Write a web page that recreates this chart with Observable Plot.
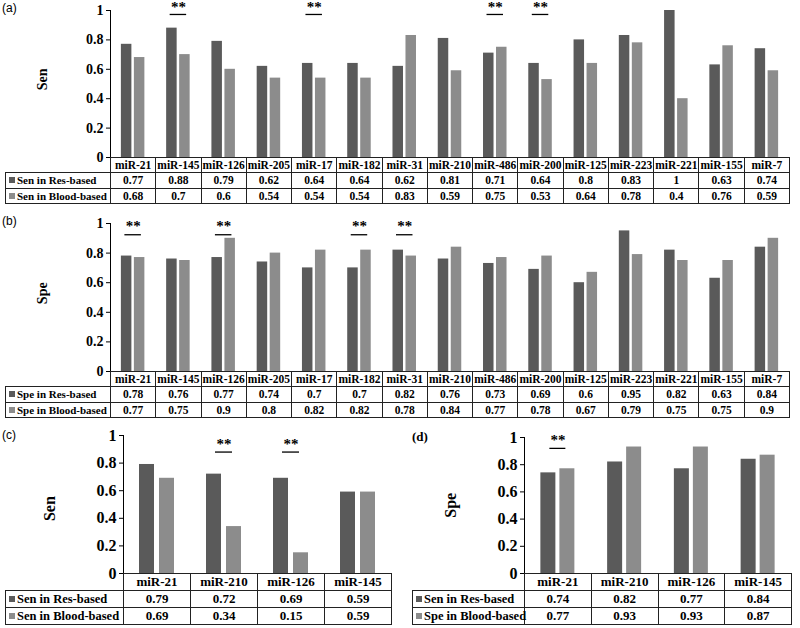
<!DOCTYPE html>
<html>
<head>
<meta charset="utf-8">
<script src="https://cdn.jsdelivr.net/npm/d3@7"></script>
<script src="https://cdn.jsdelivr.net/npm/@observablehq/plot@0.6"></script>
<style>
  body { margin: 0; background: #fff; }
  #root { position: relative; width: 800px; height: 628px; background: #fff; overflow: hidden; }
  #root svg { position: absolute; overflow: visible; }
  .tbl { position: absolute; border-collapse: collapse; table-layout: fixed; color: #000; }
  .tbl td { border: 1px solid #222; padding: 0; text-align: center; white-space: nowrap; overflow: hidden; box-sizing: border-box; }
  .tbl td.lab { text-align: left; padding-left: 3px; overflow: visible; }
  .tbl td.blank { border: none; }
  .sq { display: inline-block; width: 6px; height: 6px; margin-right: 2px; vertical-align: 1px; }
  .plab { position: absolute; color: #000; }
</style>
</head>
<body>
<div id="root"></div>
<script>
// ---------- data ----------
const catsAB = ["miR-21","miR-145","miR-126","miR-205","miR-17","miR-182","miR-31","miR-210","miR-486","miR-200","miR-125","miR-223","miR-221","miR-155","miR-7"];
const senRes   = [0.77,0.88,0.79,0.62,0.64,0.64,0.62,0.81,0.71,0.64,0.8,0.83,1,0.63,0.74];
const senBlood = [0.68,0.7,0.6,0.54,0.54,0.54,0.83,0.59,0.75,0.53,0.64,0.78,0.4,0.76,0.59];
const sigA = ["miR-145","miR-17","miR-486","miR-200"];
const speRes   = [0.78,0.76,0.77,0.74,0.7,0.7,0.82,0.76,0.73,0.69,0.6,0.95,0.82,0.63,0.84];
const speBlood = [0.77,0.75,0.9,0.8,0.82,0.82,0.78,0.84,0.77,0.78,0.67,0.79,0.75,0.75,0.9];
const sigB = ["miR-21","miR-126","miR-182","miR-31"];
const catsCD = ["miR-21","miR-210","miR-126","miR-145"];
const senResC   = [0.79,0.72,0.69,0.59];
const senBloodC = [0.69,0.34,0.15,0.59];
const sigC = ["miR-210","miR-126"];
const speResD   = [0.74,0.82,0.77,0.84];
const speBloodD = [0.77,0.93,0.93,0.87];
const sigD = ["miR-21"];
const yTicks = [0,0.2,0.4,0.6,0.8,1];
const rowLabels = {
  a: ["Sen in Res-based","Sen in Blood-based"],
  b: ["Spe in Res-based","Spe in Blood-based"],
  c: ["Sen in Res-based","Sen in Blood-based"],
  d: ["Sen in Res-based","Spe in Blood-based"]
};

// ---------- style ----------
const SERIF = '"Liberation Serif","Times New Roman",serif';
const SANS = '"Liberation Sans",Arial,sans-serif';
const DARK = "#5a5a5a", LIGHT = "#8c8c8c";
const root = document.getElementById("root");

function panel(cfg) {
  const {cats,res,blood,sig,left,top,width,height,ml,mr,mt,mb,barW,off,lineY,starY,yLabel,labelY,labelDx,tickSize,labelSize,lineExt} = cfg;
  const step = (width - ml - mr) / cats.length;
  const p = 1 - barW / step;
  const resData = cats.map((c,i) => ({cat:c, v:res[i]}));
  const bloodData = cats.map((c,i) => ({cat:c, v:blood[i]}));
  const svg = Plot.plot({
    width, height, marginLeft: ml, marginRight: mr, marginTop: mt, marginBottom: mb,
    style: {fontFamily: SERIF, fontSize: tickSize + "px", fontWeight: "bold", color: "#000", background: "none", overflow: "visible"},
    x: {type: "band", domain: cats, paddingInner: p, paddingOuter: p/2, round: false, axis: null},
    y: {domain: [0,1]},
    marks: [
      Plot.barY(resData, {x: "cat", y: "v", fill: DARK, dx: -off}),
      Plot.barY(bloodData, {x: "cat", y: "v", fill: LIGHT, dx: off}),
      Plot.axisY({ticks: yTicks, tickFormat: d => String(d), tickSize: 4, tickPadding: 3, label: null, fontWeight: "bold", fontSize: tickSize}),
      Plot.frame({anchor: "left", stroke: "#000"}),
      Plot.tickY(sig, {x: d => d, y: () => lineY, stroke: "#000", strokeWidth: 1.3, insetLeft: -lineExt, insetRight: -lineExt}),
      Plot.text(sig, {x: d => d, y: () => starY, text: () => "**", fontSize: 15, fontWeight: "bold", lineAnchor: "middle"}),
      Plot.text([yLabel], {frameAnchor: "left", y: () => labelY, text: d => d, dx: -labelDx, rotate: -90, fontSize: labelSize, fontWeight: "bold"})
    ]
  });
  svg.style.left = left + "px";
  svg.style.top = top + "px";
  root.appendChild(svg);
}

function table(cfg) {
  const {left, top, firstW, colW, rowH, cats, labels, rows, fontSize, labSize} = cfg;
  const t = document.createElement("table");
  t.className = "tbl";
  t.style.left = left + "px";
  t.style.top = top + "px";
  t.style.width = (firstW + colW * cats.length) + "px";
  t.style.font = `bold ${fontSize}px ${SERIF}`;
  const cg = document.createElement("colgroup");
  [firstW, ...cats.map(() => colW)].forEach(w => { const c = document.createElement("col"); c.style.width = w + "px"; cg.appendChild(c); });
  t.appendChild(cg);
  const hr = document.createElement("tr");
  hr.style.height = rowH + "px";
  const blank = document.createElement("td"); blank.className = "blank"; hr.appendChild(blank);
  cats.forEach(c => { const td = document.createElement("td"); td.textContent = c; hr.appendChild(td); });
  t.appendChild(hr);
  rows.forEach((vals, ri) => {
    const tr = document.createElement("tr");
    tr.style.height = rowH + "px";
    const lab = document.createElement("td"); lab.className = "lab";
    lab.style.fontSize = labSize + "px";
    const sq = document.createElement("span"); sq.className = "sq"; sq.style.background = ri === 0 ? DARK : LIGHT;
    lab.appendChild(sq); lab.appendChild(document.createTextNode(labels[ri]));
    tr.appendChild(lab);
    vals.forEach(v => { const td = document.createElement("td"); td.textContent = String(v); tr.appendChild(td); });
    t.appendChild(tr);
  });
  root.appendChild(t);
}

function plab(text, left, top, font) {
  const d = document.createElement("div");
  d.className = "plab"; d.textContent = text;
  d.style.left = left + "px"; d.style.top = top + "px"; d.style.font = font;
  root.appendChild(d);
}

// (a)
panel({cats: catsAB, res: senRes, blood: senBlood, sig: sigA, left: 0, top: 0, width: 800, height: 158, ml: 110, mr: 11, mt: 10, mb: 1,
  barW: 10.5, off: 6.5, lineY: 0.973, starY: 1.025, yLabel: "Sen", labelY: 0.457, labelDx: 68, tickSize: 14, labelSize: 14, lineExt: 3});
table({left: 5, top: 157, firstW: 105, colW: 679/15, rowH: 15.3, cats: catsAB, labels: rowLabels.a, rows: [senRes, senBlood], fontSize: 11.5, labSize: 11});
plab("(a)", 2, 1, `12px ${SANS}`);

// (b)
panel({cats: catsAB, res: speRes, blood: speBlood, sig: sigB, left: 0, top: 213, width: 800, height: 159, ml: 110, mr: 11, mt: 10, mb: 1,
  barW: 10.5, off: 6.5, lineY: 0.924, starY: 0.98, yLabel: "Spe", labelY: 0.455, labelDx: 68, tickSize: 14, labelSize: 14, lineExt: 3});
table({left: 5, top: 371, firstW: 105, colW: 679/15, rowH: 15.3, cats: catsAB, labels: rowLabels.b, rows: [speRes, speBlood], fontSize: 11.5, labSize: 11});
plab("(b)", 2, 214, `12px ${SANS}`);

// (c)
panel({cats: catsCD, res: senResC, blood: senBloodC, sig: sigC, left: 0, top: 425, width: 400, height: 149, ml: 123, mr: 9, mt: 10, mb: 1,
  barW: 15, off: 10, lineY: 0.88, starY: 0.94, yLabel: "Sen", labelY: 0.38, labelDx: 74, tickSize: 16, labelSize: 16, lineExt: 1});
table({left: 5, top: 573, firstW: 118, colW: 67, rowH: 17, cats: catsCD, labels: rowLabels.c, rows: [senResC, senBloodC], fontSize: 13, labSize: 12.5});
plab("(c)", 2, 428, `12px ${SANS}`);

// (d)
panel({cats: catsCD, res: speResD, blood: speBloodD, sig: sigD, left: 400, top: 425, width: 400, height: 149, ml: 124, mr: 9, mt: 12, mb: 1,
  barW: 15, off: 9.5, lineY: 0.92, starY: 0.98, yLabel: "Spe", labelY: 0.41, labelDx: 73.5, tickSize: 16, labelSize: 16, lineExt: 0.5});
table({left: 412, top: 573, firstW: 112, colW: 66.75, rowH: 17, cats: catsCD, labels: rowLabels.d, rows: [speResD, speBloodD], fontSize: 13, labSize: 12.5});
plab("(d)", 412, 429, `bold 13px ${SERIF}`);
</script>
</body>
</html>
